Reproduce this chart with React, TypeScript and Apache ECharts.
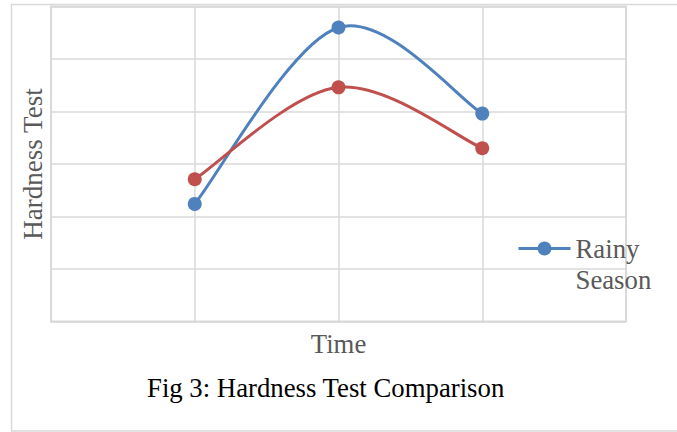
import React, { useEffect, useRef } from "react";
import * as echarts from "echarts";

const timePositions = [1, 2, 3];
const rainySeason = [2.24, 5.6, 3.96];
const drySeason = [2.71, 4.46, 3.3];
const legendItems = ["Rainy Season"];
const FONT = "'Liberation Serif', 'Times New Roman', serif";
const BLUE = "#4F81BD";
const RED = "#C0504D";

function smoothCurveSeries(name: string, values: number[], color: string, z: number) {
  return {
    name: name + " curve",
    type: "custom",
    data: values.map((v, i) => [timePositions[i], v]),
    z,
    silent: true,
    renderItem: (params: any, api: any) => {
      const i = params.dataIndex;
      if (i >= values.length - 1) return { type: "group", children: [] };
      const pts = values.map((v, k) => api.coord([timePositions[k], v]));
      const p0 = pts[Math.max(i - 1, 0)];
      const p1 = pts[i];
      const p2 = pts[i + 1];
      const p3 = pts[Math.min(i + 2, pts.length - 1)];
      const t = 1 / 6;
      return {
        type: "bezierCurve",
        shape: {
          x1: p1[0],
          y1: p1[1],
          cpx1: p1[0] + (p2[0] - p0[0]) * t,
          cpy1: p1[1] + (p2[1] - p0[1]) * t,
          cpx2: p2[0] - (p3[0] - p1[0]) * t,
          cpy2: p2[1] - (p3[1] - p1[1]) * t,
          x2: p2[0],
          y2: p2[1],
        },
        style: { stroke: color, lineWidth: 3, fill: "none" },
      };
    },
  };
}

export default function App() {
  const ref = useRef<HTMLDivElement>(null);
  useEffect(() => {
    if (!ref.current) return;
    const chart = echarts.init(ref.current, undefined, { renderer: "svg" });
    const toPairs = (vals: number[]) => vals.map((v, i) => [timePositions[i], v]);
    chart.setOption({
      animation: false,
      backgroundColor: "#ffffff",
      title: {
        text: "Fig 3: Hardness Test Comparison",
        left: 147,
        top: 374,
        padding: 0,
        textStyle: { fontFamily: FONT, fontSize: 26.75, fontWeight: "normal", color: "#000000" },
      },
      legend: {
        data: legendItems,
        left: 512,
        top: 197,
        itemWidth: 52,
        itemHeight: 17.5,
        lineStyle: { width: 3, color: BLUE, opacity: 1 },
        formatter: () => "\nRainy\nSeason",
        textStyle: {
          fontFamily: FONT,
          fontSize: 26.75,
          color: "#595959",
          lineHeight: 31,
        },
      },
      grid: {
        left: 51,
        right: 51,
        top: 6.5,
        bottom: 110.5,
        show: true,
        borderColor: "#d9d9d9",
        borderWidth: 2,
        backgroundColor: "transparent",
      },
      xAxis: {
        type: "value",
        min: 0,
        max: 4,
        interval: 1,
        name: "Time",
        nameLocation: "middle",
        nameGap: 9,
        nameTextStyle: { fontFamily: FONT, fontSize: 26.75, color: "#595959" },
        axisLine: { show: false },
        axisTick: { show: false },
        axisLabel: { show: false },
        splitLine: { show: true, lineStyle: { color: "#d9d9d9", width: 1.5 } },
      },
      yAxis: {
        type: "value",
        min: 0,
        max: 6,
        interval: 1,
        name: "Hardness Test",
        nameLocation: "middle",
        nameGap: 5,
        nameTextStyle: { fontFamily: FONT, fontSize: 27, color: "#595959" },
        axisLine: { show: false },
        axisTick: { show: false },
        axisLabel: { show: false },
        splitLine: { show: true, lineStyle: { color: "#d9d9d9", width: 1.5 } },
      },
      graphic: [
        {
          type: "polyline",
          shape: { points: [[677, 4.5], [11.5, 4.5], [11.5, 431], [677, 431]] },
          style: { stroke: "#d9d9d9", lineWidth: 1.5, fill: "none" },
          silent: true,
        },
      ],
      series: [
        smoothCurveSeries("Rainy Season", rainySeason, BLUE, 2),
        smoothCurveSeries("Dry Season", drySeason, RED, 2),
        {
          name: "Rainy Season",
          type: "line",
          data: toPairs(rainySeason),
          symbol: "circle",
          symbolSize: 14,
          lineStyle: { color: BLUE, width: 3, opacity: 0 },
          itemStyle: { color: BLUE },
          z: 4,
        },
        {
          name: "Dry Season",
          type: "line",
          data: toPairs(drySeason),
          symbol: "circle",
          symbolSize: 14,
          lineStyle: { color: RED, width: 3, opacity: 0 },
          itemStyle: { color: RED },
          z: 3,
        },
      ],
    });
    return () => chart.dispose();
  }, []);
  return (
    <div
      ref={ref}
      style={{ position: "absolute", left: 0, top: 0, width: 677, height: 432 }}
    />
  );
}
